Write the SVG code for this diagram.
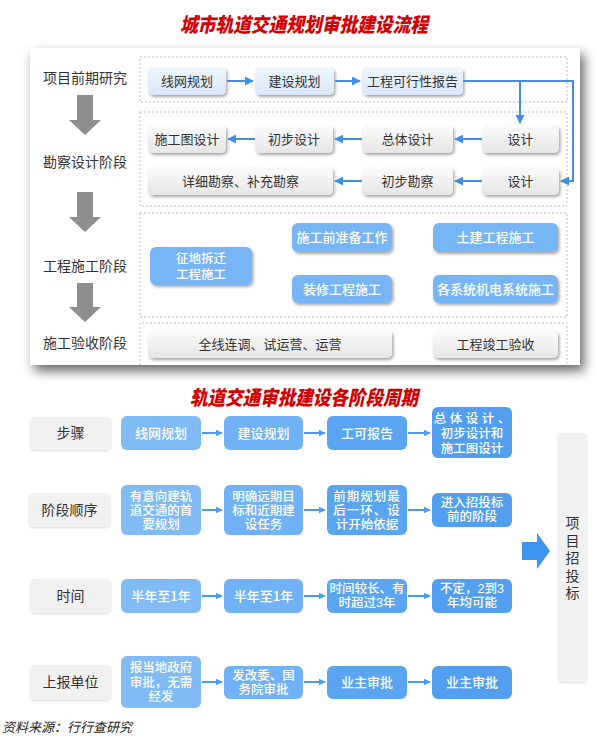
<svg xmlns="http://www.w3.org/2000/svg" width="597" height="739" viewBox="0 0 597 739">
<defs>
  <filter id="cardShadow" x="-10%" y="-10%" width="125%" height="130%">
    <feDropShadow dx="4" dy="6" stdDeviation="6" flood-color="#000" flood-opacity="0.6"/>
  </filter>
  <filter id="btnShadow" x="-10%" y="-20%" width="125%" height="150%">
    <feDropShadow dx="1.5" dy="2" stdDeviation="1.5" flood-color="#000" flood-opacity="0.35"/>
  </filter>
  <filter id="softShadow" x="-10%" y="-20%" width="125%" height="150%">
    <feDropShadow dx="0" dy="1" stdDeviation="1.2" flood-color="#000" flood-opacity="0.15"/>
  </filter>
  <linearGradient id="grayBtn" x1="0" y1="0" x2="0" y2="1">
    <stop offset="0" stop-color="#fbfbfb"/>
    <stop offset="1" stop-color="#e6e6e6"/>
  </linearGradient>
  <linearGradient id="blueLight" x1="0" y1="0" x2="0" y2="1">
    <stop offset="0" stop-color="#eef5fd"/>
    <stop offset="1" stop-color="#d9e8f8"/>
  </linearGradient>
  <marker id="ah" viewBox="0 0 10 10" refX="9" refY="5" markerWidth="4.5" markerHeight="4.5" orient="auto">
    <path d="M0,0 L10,5 L0,10 z" fill="#3f8fe6"/>
  </marker>
  <marker id="ah2" viewBox="0 0 10 10" refX="9" refY="5" markerWidth="3.5" markerHeight="3.5" orient="auto">
    <path d="M0,0 L10,5 L0,10 z" fill="#4a9cf0"/>
  </marker>
  <style>
    .title { font-family: "Noto Sans CJK SC", sans-serif; font-weight: 900; font-style: italic; font-size: 20px; fill: #d40000; }
    .lbl { font-family: "Noto Sans CJK SC", sans-serif; font-size: 14px; fill: #333; text-anchor: middle; }
    .vl { font-family: "Liberation Sans", "Noto Sans CJK SC", sans-serif; font-size: 14px; fill: #333; text-anchor: middle; }
    .nt { font-family: "Noto Sans CJK SC", sans-serif; font-size: 13px; fill: #333; text-anchor: middle; }
    .wt { font-family: "Noto Sans CJK SC", sans-serif; font-size: 13px; fill: #fff; text-anchor: middle; font-weight: 500; }
    .wm { font-family: "Liberation Sans", "Noto Sans CJK SC", sans-serif; font-size: 12.5px; fill: #fff; text-anchor: middle; font-weight: 500; }
    .gbtn { fill: url(#grayBtn); filter: url(#btnShadow); }
    .lbtn { fill: url(#blueLight); filter: url(#btnShadow); }
    .bbtn { fill: #78b5f6; filter: url(#btnShadow); }
    .dot { fill: none; stroke: #bdbdbd; stroke-width: 1; stroke-dasharray: 2 2; }
    .conn { fill: none; stroke: #3f8fe6; stroke-width: 2; marker-end: url(#ah); }
    .conn2 { fill: none; stroke: #4a9cf0; stroke-width: 2; marker-end: url(#ah2); }
    .garrow { fill: #8e8e8e; }
    .side { fill: #f1f1f1; filter: url(#softShadow); }
  </style>
</defs>

<rect x="0" y="0" width="597" height="739" fill="#ffffff"/>

<!-- Title 1 -->
<text class="title" x="180" y="32" textLength="248" lengthAdjust="spacingAndGlyphs">城市轨道交通规划审批建设流程</text>

<!-- Top card -->
<rect x="30" y="48" width="550" height="317" fill="#ffffff" filter="url(#cardShadow)"/>

<!-- dotted group boxes -->
<rect class="dot" x="140" y="57" width="427" height="45"/>
<rect class="dot" x="140" y="112" width="427" height="94"/>
<rect class="dot" x="140" y="213" width="427" height="104"/>
<path class="dot" d="M140,365 V323 H567 V365"/>

<!-- stage labels -->
<g id="stage-labels">
  <text class="lbl" x="85" y="83">项目前期研究</text>
  <text class="lbl" x="85" y="167">勘察设计阶段</text>
  <text class="lbl" x="85" y="271">工程施工阶段</text>
  <text class="lbl" x="85" y="348">施工验收阶段</text>
  <path class="garrow" d="M77,95 H93 V120 H101 L85,135 L69,120 H77 Z"/>
  <path class="garrow" d="M77,192 H93 V217 H101 L85,232 L69,217 H77 Z"/>
  <path class="garrow" d="M77,283 H93 V307 H101 L85,322 L69,307 H77 Z"/>
</g>

<!-- Row 1 -->
<g id="n-xianwang"><rect class="lbtn" x="148" y="67" width="78" height="28" rx="5"/><text class="nt" x="187" y="86">线网规划</text></g>
<g id="n-jianshe"><rect class="lbtn" x="255" y="67" width="79" height="28" rx="5"/><text class="nt" x="294.5" y="86">建设规划</text></g>
<g id="n-kexing"><rect class="lbtn" x="362" y="67" width="101" height="28" rx="5"/><text class="nt" x="412.5" y="86">工程可行性报告</text></g>

<!-- Row 2 -->
<g id="n-shigongtu"><rect class="gbtn" x="148" y="125" width="78" height="28" rx="5"/><text class="nt" x="187" y="144">施工图设计</text></g>
<g id="n-chubusheji"><rect class="gbtn" x="255" y="125" width="78" height="28" rx="5"/><text class="nt" x="294" y="144">初步设计</text></g>
<g id="n-zongti"><rect class="gbtn" x="362" y="125" width="91" height="28" rx="5"/><text class="nt" x="407.5" y="144">总体设计</text></g>
<g id="n-sheji1"><rect class="gbtn" x="482" y="125" width="77" height="28" rx="5"/><text class="nt" x="520.5" y="144">设计</text></g>

<!-- Row 3 -->
<g id="n-xiangxi"><rect class="gbtn" x="148" y="167" width="185" height="28" rx="5"/><text class="nt" x="240.5" y="186">详细勘察、补充勘察</text></g>
<g id="n-chubukancha"><rect class="gbtn" x="362" y="167" width="91" height="28" rx="5"/><text class="nt" x="407.5" y="186">初步勘察</text></g>
<g id="n-sheji2"><rect class="gbtn" x="482" y="167" width="77" height="28" rx="5"/><text class="nt" x="520.5" y="186">设计</text></g>

<!-- Construction -->
<g id="n-zhengdi"><rect class="bbtn" x="150" y="247" width="102" height="38" rx="6"/><text class="wm" font-size="13" x="201" y="263">征地拆迁<tspan x="201" dy="16">工程施工</tspan></text></g>
<g id="n-zhunbei"><rect class="bbtn" x="292" y="223" width="100" height="29" rx="6"/><text class="wt" x="342" y="242">施工前准备工作</text></g>
<g id="n-tujian"><rect class="bbtn" x="433" y="223" width="125" height="29" rx="6"/><text class="wt" x="495.5" y="242">土建工程施工</text></g>
<g id="n-zhuangxiu"><rect class="bbtn" x="292" y="275" width="100" height="28" rx="6"/><text class="wt" x="342" y="294">装修工程施工</text></g>
<g id="n-jidian"><rect class="bbtn" x="433" y="275" width="125" height="28" rx="6"/><text class="wt" x="495.5" y="294">各系统机电系统施工</text></g>

<!-- Acceptance -->
<g id="n-quanxian"><rect class="gbtn" x="148" y="330" width="244" height="28" rx="5"/><text class="nt" x="270" y="349">全线连调、试运营、运营</text></g>
<g id="n-jungong"><rect class="gbtn" x="433" y="330" width="125" height="28" rx="5"/><text class="nt" x="495.5" y="349">工程竣工验收</text></g>

<!-- Top connectors -->
<g id="connectors-top">
  <path class="conn" d="M227,81 H253"/>
  <path class="conn" d="M335,81 H360"/>
  <path class="conn" d="M463,81 H573 V181 H561"/>
  <path class="conn" d="M520,81 V123"/>
  <path class="conn" d="M482,139 H455"/>
  <path class="conn" d="M362,139 H335"/>
  <path class="conn" d="M255,139 H228"/>
  <path class="conn" d="M482,181 H455"/>
  <path class="conn" d="M362,181 H335"/>
</g>

<!-- Title 2 -->
<text class="title" x="190" y="405" textLength="228" lengthAdjust="spacingAndGlyphs">轨道交通审批建设各阶段周期</text>

<!-- Side labels -->
<g id="s-buzhou"><rect class="side" x="30" y="417" width="81" height="33" rx="5"/><text class="lbl" x="70.5" y="438">步骤</text></g>
<g id="s-shunxu"><rect class="side" x="29" y="493" width="81" height="34" rx="5"/><text class="lbl" x="69.5" y="515">阶段顺序</text></g>
<g id="s-shijian"><rect class="side" x="30" y="579" width="81" height="34" rx="5"/><text class="lbl" x="70.5" y="601">时间</text></g>
<g id="s-shangbao"><rect class="side" x="30" y="665" width="81" height="35" rx="5"/><text class="lbl" x="70.5" y="687">上报单位</text></g>

<!-- Row: 步骤 -->
<g id="b-r1c1"><rect x="121" y="416" width="80" height="34" rx="6" fill="#80bbf6"/><text class="wt" x="161" y="438">线网规划</text></g>
<g id="b-r1c2"><rect x="224" y="416" width="79" height="34" rx="6" fill="#70b2f5"/><text class="wt" x="263.5" y="438">建设规划</text></g>
<g id="b-r1c3"><rect x="327" y="416" width="80" height="34" rx="6" fill="#5aa5f2"/><text class="wt" x="367" y="438">工可报告</text></g>
<g id="b-r1c4"><rect x="432" y="407" width="80" height="51" rx="6" fill="#529ff0"/>
  <text class="wm" x="472" y="423">总 体 设 计 、<tspan x="472" dy="15">初步设计和</tspan><tspan x="472" dy="15">施工图设计</tspan></text></g>

<!-- Row: 阶段顺序 -->
<g id="b-r2c1"><rect x="121" y="485" width="80" height="50" rx="6" fill="#80bbf6"/>
  <text class="wm" x="161" y="501">有意向建轨<tspan x="161" dy="14">道交通的首</tspan><tspan x="161" dy="14">要规划</tspan></text></g>
<g id="b-r2c2"><rect x="224" y="485" width="79" height="50" rx="6" fill="#70b2f5"/>
  <text class="wm" x="263.5" y="501">明确远期目<tspan x="263.5" dy="14">标和近期建</tspan><tspan x="263.5" dy="14">设任务</tspan></text></g>
<g id="b-r2c3"><rect x="327" y="485" width="80" height="50" rx="6" fill="#5aa5f2"/>
  <text class="wm" x="367" y="501" letter-spacing="1">前期规划最<tspan x="367" dy="14">后一环、设</tspan><tspan x="367" dy="14" letter-spacing="0">计开始依据</tspan></text></g>
<g id="b-r2c4"><rect x="432" y="493" width="80" height="34" rx="6" fill="#529ff0"/>
  <text class="wm" x="472" y="507">进入招投标<tspan x="472" dy="14">前的阶段</tspan></text></g>

<!-- Row: 时间 -->
<g id="b-r3c1"><rect x="121" y="579" width="80" height="34" rx="6" fill="#80bbf6"/><text class="wt" x="161" y="601">半年至1年</text></g>
<g id="b-r3c2"><rect x="224" y="579" width="79" height="34" rx="6" fill="#70b2f5"/><text class="wt" x="263.5" y="601">半年至1年</text></g>
<g id="b-r3c3"><rect x="327" y="579" width="80" height="34" rx="6" fill="#5aa5f2"/>
  <text class="wm" x="367" y="593" font-size="12">时间较长、有<tspan x="367" dy="14">时超过3年</tspan></text></g>
<g id="b-r3c4"><rect x="432" y="579" width="80" height="34" rx="6" fill="#529ff0"/>
  <text class="wm" x="472" y="593">不定，2到3<tspan x="472" dy="14">年均可能</tspan></text></g>

<!-- Row: 上报单位 -->
<g id="b-r4c1"><rect x="121" y="656" width="80" height="52" rx="6" fill="#80bbf6"/>
  <text class="wm" x="161" y="672">报当地政府<tspan x="161" dy="14.5">审批，无需</tspan><tspan x="161" dy="14.5">经发</tspan></text></g>
<g id="b-r4c2"><rect x="224" y="666" width="79" height="33" rx="6" fill="#70b2f5"/>
  <text class="wm" x="263.5" y="680">发改委、国<tspan x="263.5" dy="14">务院审批</tspan></text></g>
<g id="b-r4c3"><rect x="327" y="666" width="80" height="33" rx="6" fill="#5aa5f2"/><text class="wt" x="367" y="687">业主审批</text></g>
<g id="b-r4c4"><rect x="432" y="666" width="80" height="33" rx="6" fill="#529ff0"/><text class="wt" x="472" y="687">业主审批</text></g>

<!-- Bottom connectors -->
<g id="connectors-bottom">
  <path class="conn2" d="M202,433 H222"/>
  <path class="conn2" d="M304,433 H325"/>
  <path class="conn2" d="M408,433 H430"/>
  <path class="conn2" d="M202,510 H222"/>
  <path class="conn2" d="M304,510 H325"/>
  <path class="conn2" d="M408,510 H430"/>
  <path class="conn2" d="M202,596 H222"/>
  <path class="conn2" d="M304,596 H325"/>
  <path class="conn2" d="M408,596 H430"/>
  <path class="conn2" d="M202,682 H222"/>
  <path class="conn2" d="M304,682 H325"/>
  <path class="conn2" d="M408,682 H430"/>
</g>

<!-- Big arrow -->
<g id="big-arrow"><path d="M522,542 H537 V533 L550,551 L537,569 V560 H522 Z" fill="#3d95f0"/></g>

<!-- Right tall box -->
<g id="n-zhaotoubiao">
  <rect class="side" x="558" y="433" width="29" height="249" rx="4"/>
  <text class="vl" x="572.5" y="528">项<tspan x="572.5" dy="17.5">目</tspan><tspan x="572.5" dy="17.5">招</tspan><tspan x="572.5" dy="17.5">投</tspan><tspan x="572.5" dy="17.5">标</tspan></text>
</g>

<!-- Footer -->
<text x="2" y="732" font-family="Noto Sans CJK SC, sans-serif" font-size="13" font-style="italic" fill="#222">资料来源：行行查研究</text>
</svg>
